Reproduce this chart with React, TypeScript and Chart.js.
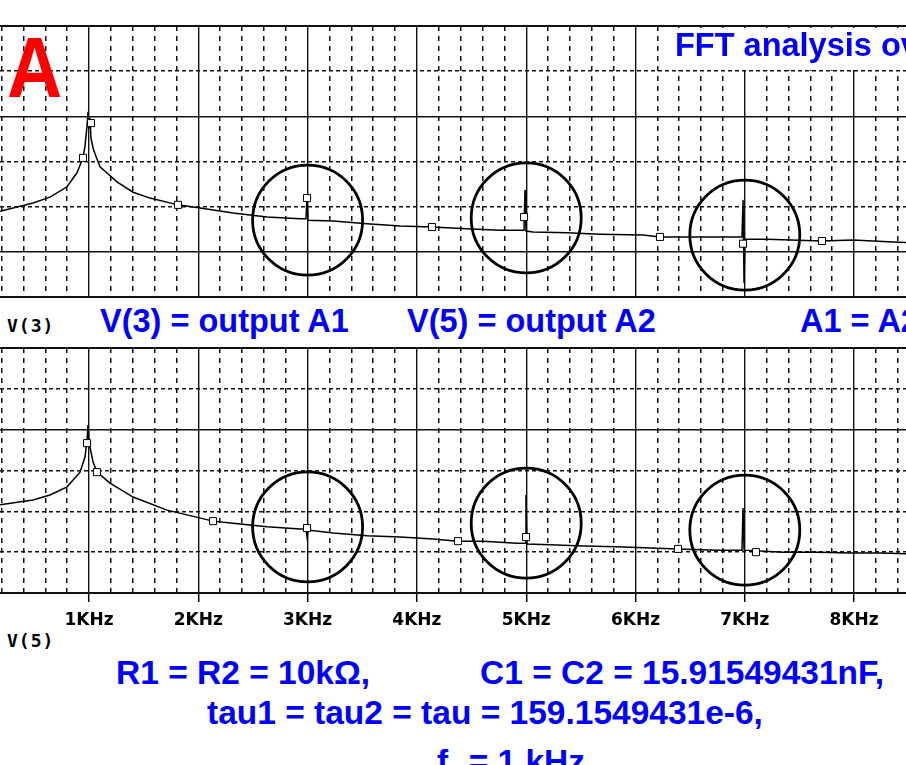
import React, { useEffect, useRef } from 'react';
import { Chart, registerables } from 'chart.js';

Chart.register(...registerables);

// ---- data (frequency in kHz, level in grid divisions) ----
const xTickLabels = ['1KHz', '2KHz', '3KHz', '4KHz', '5KHz', '6KHz', '7KHz', '8KHz'];

const topTrace: [number, number][] = [
  [0.186, 1.90], [0.488, 2.08], [0.643, 2.21], [0.799, 2.44], [0.890, 2.75], [0.945, 3.08],
  [0.963, 3.34], [0.982, 3.79], [0.991, 4.10], [1.000, 3.74], [1.009, 3.96], [1.018, 3.52],
  [1.037, 3.30], [1.055, 3.17], [1.101, 2.88], [1.256, 2.55], [1.403, 2.32], [1.558, 2.19],
  [1.814, 2.04], [2.016, 1.97], [2.318, 1.86], [2.629, 1.77], [2.931, 1.73], [2.985, 1.73],
  [2.995, 2.24], [3.004, 1.70], [3.233, 1.68], [3.544, 1.62], [3.846, 1.57], [4.138, 1.55],
  [4.458, 1.51], [4.760, 1.48], [4.980, 1.48], [4.989, 2.37], [4.998, 1.46], [5.062, 1.44],
  [5.373, 1.42], [5.675, 1.39], [6.069, 1.37], [6.224, 1.33], [6.590, 1.33], [6.974, 1.33],
  [6.984, 2.15], [6.993, 0.31], [7.002, 1.28], [7.203, 1.28], [7.706, 1.24], [7.990, 1.26],
  [8.356, 1.22], [8.511, 1.20],
];
const topMarkers: [number, number][] = [
  [0.945, 3.08], [1.018, 3.85], [1.814, 2.04], [2.995, 2.19], [4.138, 1.55],
  [4.980, 1.77], [6.224, 1.33], [6.984, 1.18], [7.706, 1.24],
];
const topCircles: [number, number][] = [[3, 1.70], [5, 1.75], [7, 1.37]];
const topSolidY = [0, 1, 4, 6];

const lowTrace: [number, number][] = [
  [0.186, 2.16], [0.488, 2.28], [0.643, 2.40], [0.799, 2.60], [0.918, 2.96], [0.963, 3.33],
  [0.982, 3.75], [0.991, 4.11], [1.000, 3.75], [1.009, 3.58], [1.037, 3.21], [1.073, 2.96],
  [1.192, 2.69], [1.403, 2.35], [1.714, 2.03], [2.135, 1.76], [2.318, 1.71], [2.629, 1.62],
  [2.931, 1.57], [2.985, 1.57], [2.995, 1.37], [3.004, 1.54], [3.233, 1.47], [3.544, 1.40],
  [3.846, 1.37], [4.147, 1.32], [4.376, 1.27], [4.605, 1.27], [4.916, 1.22], [4.989, 1.22],
  [4.998, 2.40], [5.007, 1.20], [5.218, 1.18], [5.520, 1.15], [5.831, 1.13], [6.389, 1.08],
  [6.746, 1.05], [6.974, 1.05], [6.984, 2.08], [6.993, 1.05], [7.350, 1.00], [7.661, 1.00],
  [7.962, 0.98], [8.237, 0.98], [8.511, 0.96],
];
const lowMarkers: [number, number][] = [
  [0.982, 3.67], [1.073, 2.96], [2.135, 1.76], [2.995, 1.59], [4.376, 1.27],
  [4.998, 1.37], [6.389, 1.08], [7.102, 1.00],
];
const lowCircles: [number, number][] = [[3, 1.62], [5, 1.71], [7, 1.54]];
const lowSolidY = [0, 4, 6];

const X_MIN = 0.1857;
const X_MAX = 8.4748;

const CLEAR = 'rgba(0,0,0,0)';
const INK = '#111';
const isInt = (v: number) => Math.abs(v - Math.round(v)) < 1e-6;
const pts = (a: [number, number][]) => a.map(([x, y]) => ({ x, y }));

function makeConfig(trace: [number, number][], markers: [number, number][], circles: [number, number][], solidY: number[], withLabels: boolean): any {
  const isSolidY = (v: number) => solidY.some((s) => Math.abs(s - v) < 1e-6);
  return {
    type: 'scatter',
    data: {
      datasets: [
        { data: pts(markers), pointStyle: 'rect', pointRadius: 5, backgroundColor: '#fff', borderColor: '#000', borderWidth: 1, showLine: false, order: 0 },
        { data: pts(circles), pointStyle: 'circle', pointRadius: 55, backgroundColor: CLEAR, borderColor: '#000', borderWidth: 2.8, showLine: false, order: 1 },
        { data: pts(trace), showLine: true, borderColor: '#000', borderWidth: 1.5, pointRadius: 0, tension: 0, fill: false, order: 2 },
      ],
    },
    options: {
      responsive: false,
      maintainAspectRatio: false,
      animation: false,
      events: [],
      layout: {
        autoPadding: false,
        padding: withLabels ? { top: 8, bottom: 0, left: 0, right: 0 } : { top: 26, bottom: 3, left: 0, right: 0 },
      },
      plugins: { legend: { display: false }, tooltip: { enabled: false }, title: { display: false } },
      scales: {
        xm: {
          type: 'linear', min: X_MIN, max: X_MAX, position: 'bottom',
          afterFit: (s: any) => { s.height = 0; },
          ticks: { display: false, stepSize: 0.2, includeBounds: false },
          grid: { drawTicks: false, lineWidth: 1.5, color: (c: any) => (c.tick && !isInt(c.tick.value) ? INK : CLEAR) },
          border: { display: false, dash: [5, 5] },
        },
        x: {
          type: 'linear', min: X_MIN, max: X_MAX, position: 'bottom',
          afterFit: (s: any) => { s.height = withLabels ? 34 : 0; },
          ticks: {
            display: withLabels, stepSize: 1, includeBounds: false, autoSkip: false, maxRotation: 0, minRotation: 0,
            padding: 8, color: '#000',
            font: { family: '"DejaVu Sans", sans-serif', weight: 'bold', size: 17 },
            callback: (v: number) => (isInt(v) && xTickLabels[Math.round(v) - 1] ? xTickLabels[Math.round(v) - 1] : ''),
          },
          grid: {
            drawTicks: withLabels, tickLength: 9, tickWidth: 1.5, tickColor: '#000', lineWidth: 1.4,
            color: (c: any) => (c.tick && isInt(c.tick.value) ? INK : CLEAR),
          },
          border: { display: false },
        },
        ym: {
          type: 'linear', min: 0, max: 6, position: 'left',
          afterFit: (s: any) => { s.width = 0; },
          ticks: { display: false, stepSize: 1 },
          grid: { drawTicks: false, lineWidth: 1.5, color: (c: any) => (c.tick && !isSolidY(c.tick.value) ? INK : CLEAR) },
          border: { display: false, dash: [4, 3] },
        },
        y: {
          type: 'linear', min: 0, max: 6, position: 'left',
          afterFit: (s: any) => { s.width = 0; },
          ticks: { display: false, stepSize: 1 },
          grid: {
            drawTicks: false,
            lineWidth: (c: any) => (c.tick && (c.tick.value === 0 || c.tick.value === 6) ? 2 : 1.4),
            color: (c: any) => (c.tick && isSolidY(c.tick.value) ? INK : CLEAR),
          },
          border: { display: false },
        },
      },
    },
  };
}

function Txt(props: { left: number; baseline: number; size: number; color: string; mono?: boolean; spacing?: number; sx?: number; bg?: string; children: React.ReactNode }) {
  const { left, baseline, size, color, mono, spacing, sx, bg, children } = props;
  return (
    <div
      style={{
        position: 'absolute', left, top: baseline - 0.8465 * size, fontSize: size, lineHeight: `${size}px`,
        fontFamily: mono ? '"DejaVu Sans Mono", monospace' : '"Liberation Sans", Arial, sans-serif',
        fontWeight: 'bold', color, whiteSpace: 'nowrap', letterSpacing: spacing || 0,
        transform: sx ? `scaleX(${sx})` : undefined, transformOrigin: '0 0', background: bg,
      }}
    >
      {children}
    </div>
  );
}

export default function App() {
  const topRef = useRef<HTMLCanvasElement>(null);
  const lowRef = useRef<HTMLCanvasElement>(null);

  useEffect(() => {
    const c1 = new Chart(topRef.current as HTMLCanvasElement, makeConfig(topTrace, topMarkers, topCircles, topSolidY, false));
    const c2 = new Chart(lowRef.current as HTMLCanvasElement, makeConfig(lowTrace, lowMarkers, lowCircles, lowSolidY, true));
    return () => { c1.destroy(); c2.destroy(); };
  }, []);

  const BLUE = '#0000ff';
  return (
    <div style={{ position: 'fixed', left: 0, top: 0, width: 906, height: 765, overflow: 'hidden', background: '#fff' }}>
      <canvas ref={topRef} width={906} height={300} style={{ position: 'absolute', left: 0, top: 0, display: 'block' }} />
      <canvas ref={lowRef} width={906} height={287} style={{ position: 'absolute', left: 0, top: 340, display: 'block' }} />

      <Txt left={7} baseline={97} size={85} color="#ff0000" sx={0.9}>A</Txt>
      <div style={{ position: 'absolute', left: 666, top: 28, width: 260, height: 42, background: '#fff' }} />
      <Txt left={675} baseline={57} size={32.5} color={BLUE}>FFT analysis over</Txt>

      <Txt left={7} baseline={332} size={18} color="#000" mono spacing={1}>V(3)</Txt>
      <Txt left={100} baseline={333} size={32.5} color={BLUE}>V(3) = output A1</Txt>
      <Txt left={407} baseline={333} size={32.5} color={BLUE}>V(5) = output A2</Txt>
      <Txt left={800} baseline={333} size={32.5} color={BLUE}>A1 = A2</Txt>

      <Txt left={7} baseline={647} size={18} color="#000" mono spacing={1}>V(5)</Txt>
      <Txt left={116} baseline={684} size={33.5} color={BLUE}>R1 = R2 = 10kΩ,</Txt>
      <Txt left={480} baseline={684} size={33.5} color={BLUE}>C1 = C2 = 15.91549431nF,</Txt>
      <Txt left={207} baseline={724} size={33.5} color={BLUE}>tau1 = tau2 = tau = 159.1549431e-6,</Txt>
      <Txt left={437} baseline={773} size={33.5} color={BLUE}>
        f<span style={{ fontSize: '0.6em', verticalAlign: '-0.3em' }}>0</span> = 1 kHz
      </Txt>
    </div>
  );
}
